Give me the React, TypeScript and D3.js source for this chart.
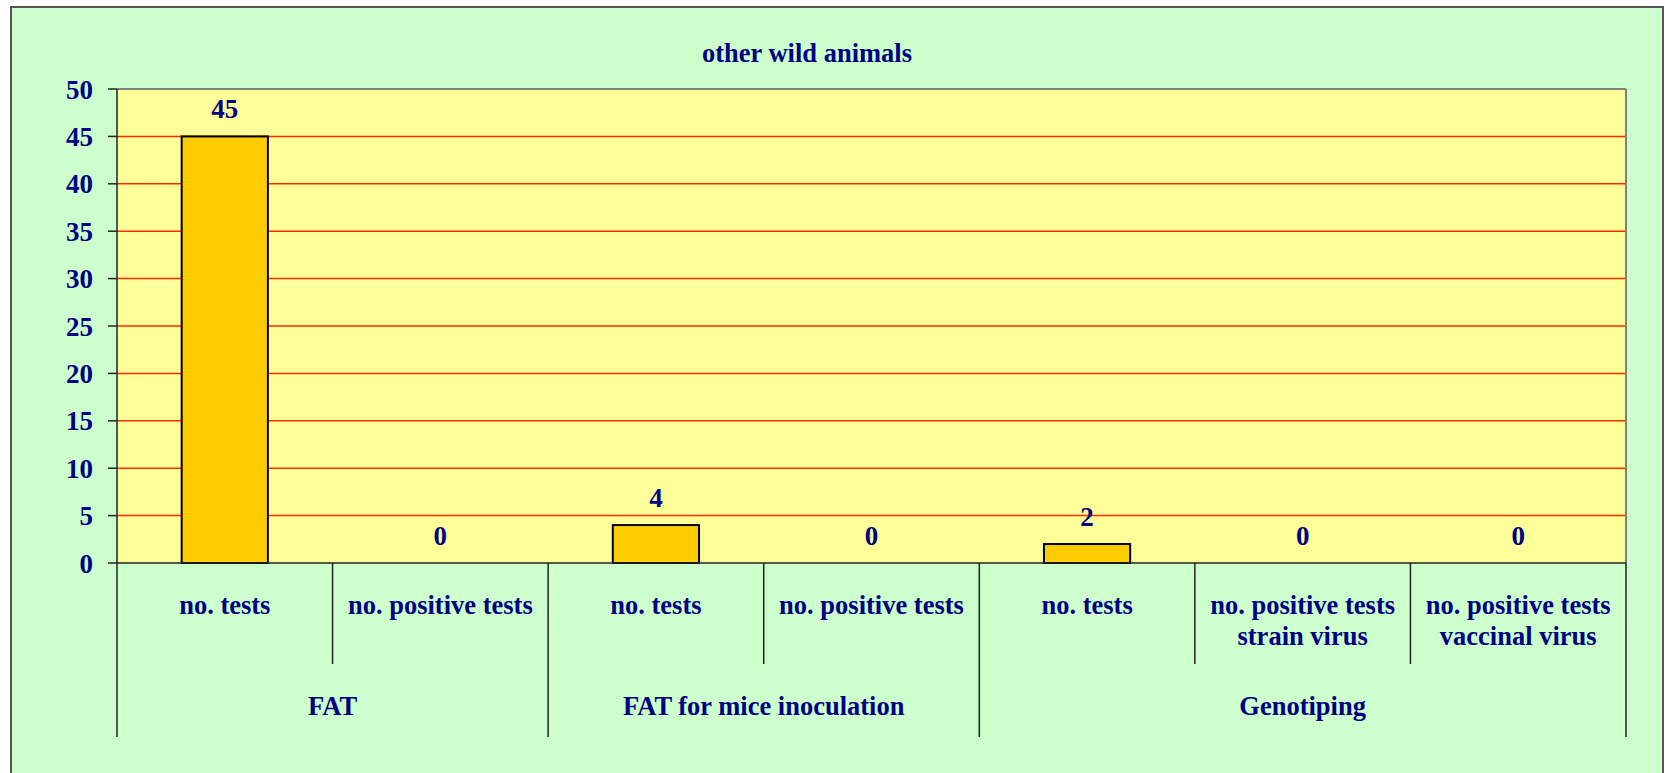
import React from "react";
import * as d3 from "d3";

const title = "other wild animals";
const categories = [
  "no. tests|FAT",
  "no. positive tests|FAT",
  "no. tests|FAT for mice inoculation",
  "no. positive tests|FAT for mice inoculation",
  "no. tests|Genotiping",
  "no. positive tests\nstrain virus|Genotiping",
  "no. positive tests\nvaccinal virus|Genotiping",
];
const values = [45, 0, 4, 0, 2, 0, 0];
const groups = ["FAT", "FAT for mice inoculation", "Genotiping"];
const groupSizes = [2, 2, 3];
const yTicks = [0, 5, 10, 15, 20, 25, 30, 35, 40, 45, 50];

const W = 1665, H = 773;
const plotL = 117, plotR = 1626, plotT = 89, plotB = 563;
const NAVY = "#000080";
const FONT = "'Liberation Serif', 'Times New Roman', serif";

export default function App() {
  const x = d3.scaleBand<number>().domain(d3.range(categories.length)).range([plotL, plotR]).paddingInner(0).paddingOuter(0);
  const y = d3.scaleLinear().domain([0, 50]).range([plotB, plotT]);
  const bw = x.bandwidth();
  const barW = bw * 0.4;

  const boundaries: number[] = [0];
  groupSizes.reduce((acc, s) => { boundaries.push(acc + s); return acc + s; }, 0);

  const xAt = (i: number) => plotL + i * bw;

  return (
    <svg width={W} height={H} style={{ position: "absolute", left: 0, top: 0 }} fontFamily={FONT}>
      <rect x={0} y={0} width={W} height={H} fill="#fff" />
      <rect x={11} y={7} width={1652} height={H} fill="#CCFFCC" stroke="#555" strokeWidth={2} />
      <text x={807} y={62} textAnchor="middle" fontWeight="bold" fontSize={26.5} fill={NAVY}>{title}</text>

      <rect x={plotL} y={plotT} width={plotR - plotL} height={plotB - plotT} fill="#FFFF99" />
      {yTicks.filter(t => t > 0 && t < 50).map(t => (
        <line key={t} x1={plotL} x2={plotR} y1={y(t)} y2={y(t)} stroke="#FF2A00" strokeWidth={1.5} />
      ))}
      <line x1={plotL} x2={plotR} y1={plotT} y2={plotT} stroke="#808080" strokeWidth={2} />
      <line x1={plotR} x2={plotR} y1={plotT} y2={plotB} stroke="#808080" strokeWidth={2} />

      {values.map((v, i) => {
        const cx = (x(i) as number) + bw / 2;
        return (
          <g key={i}>
            {v > 0 && (
              <rect x={cx - barW / 2} y={y(v)} width={barW} height={y(0) - y(v)} fill="#FFCC00" stroke="#000" strokeWidth={2} />
            )}
            <text x={cx} y={y(v) - 18} textAnchor="middle" fontWeight="bold" fontSize={27} fill={NAVY}>{v}</text>
          </g>
        );
      })}

      {yTicks.map(t => (
        <g key={t}>
          <line x1={108} x2={plotL} y1={y(t)} y2={y(t)} stroke="#222" strokeWidth={1.5} />
          <text x={93} y={y(t) + 9.5} textAnchor="end" fontWeight="bold" fontSize={27} fill={NAVY}>{t}</text>
        </g>
      ))}
      <line x1={plotL} x2={plotL} y1={plotT} y2={737} stroke="#222" strokeWidth={1.5} />
      <line x1={plotL} x2={plotR} y1={plotB} y2={plotB} stroke="#222" strokeWidth={1.5} />

      {d3.range(1, categories.length + 1).map(k => {
        const isGroup = boundaries.includes(k);
        return <line key={k} x1={xAt(k)} x2={xAt(k)} y1={plotB} y2={isGroup ? 737 : 664} stroke="#222" strokeWidth={1.5} />;
      })}

      {categories.map((c, i) => {
        const lines = c.split("|")[0].split("\n");
        const cx = (x(i) as number) + bw / 2;
        return (
          <text key={i} x={cx} textAnchor="middle" fontWeight="bold" fontSize={26.5} fill={NAVY}>
            {lines.map((l, j) => <tspan key={j} x={cx} y={614 + j * 30.5}>{l}</tspan>)}
          </text>
        );
      })}

      {groups.map((g, gi) => {
        const cx = (xAt(boundaries[gi]) + xAt(boundaries[gi + 1])) / 2;
        return <text key={g} x={cx} y={715} textAnchor="middle" fontWeight="bold" fontSize={26.5} fill={NAVY}>{g}</text>;
      })}
    </svg>
  );
}
